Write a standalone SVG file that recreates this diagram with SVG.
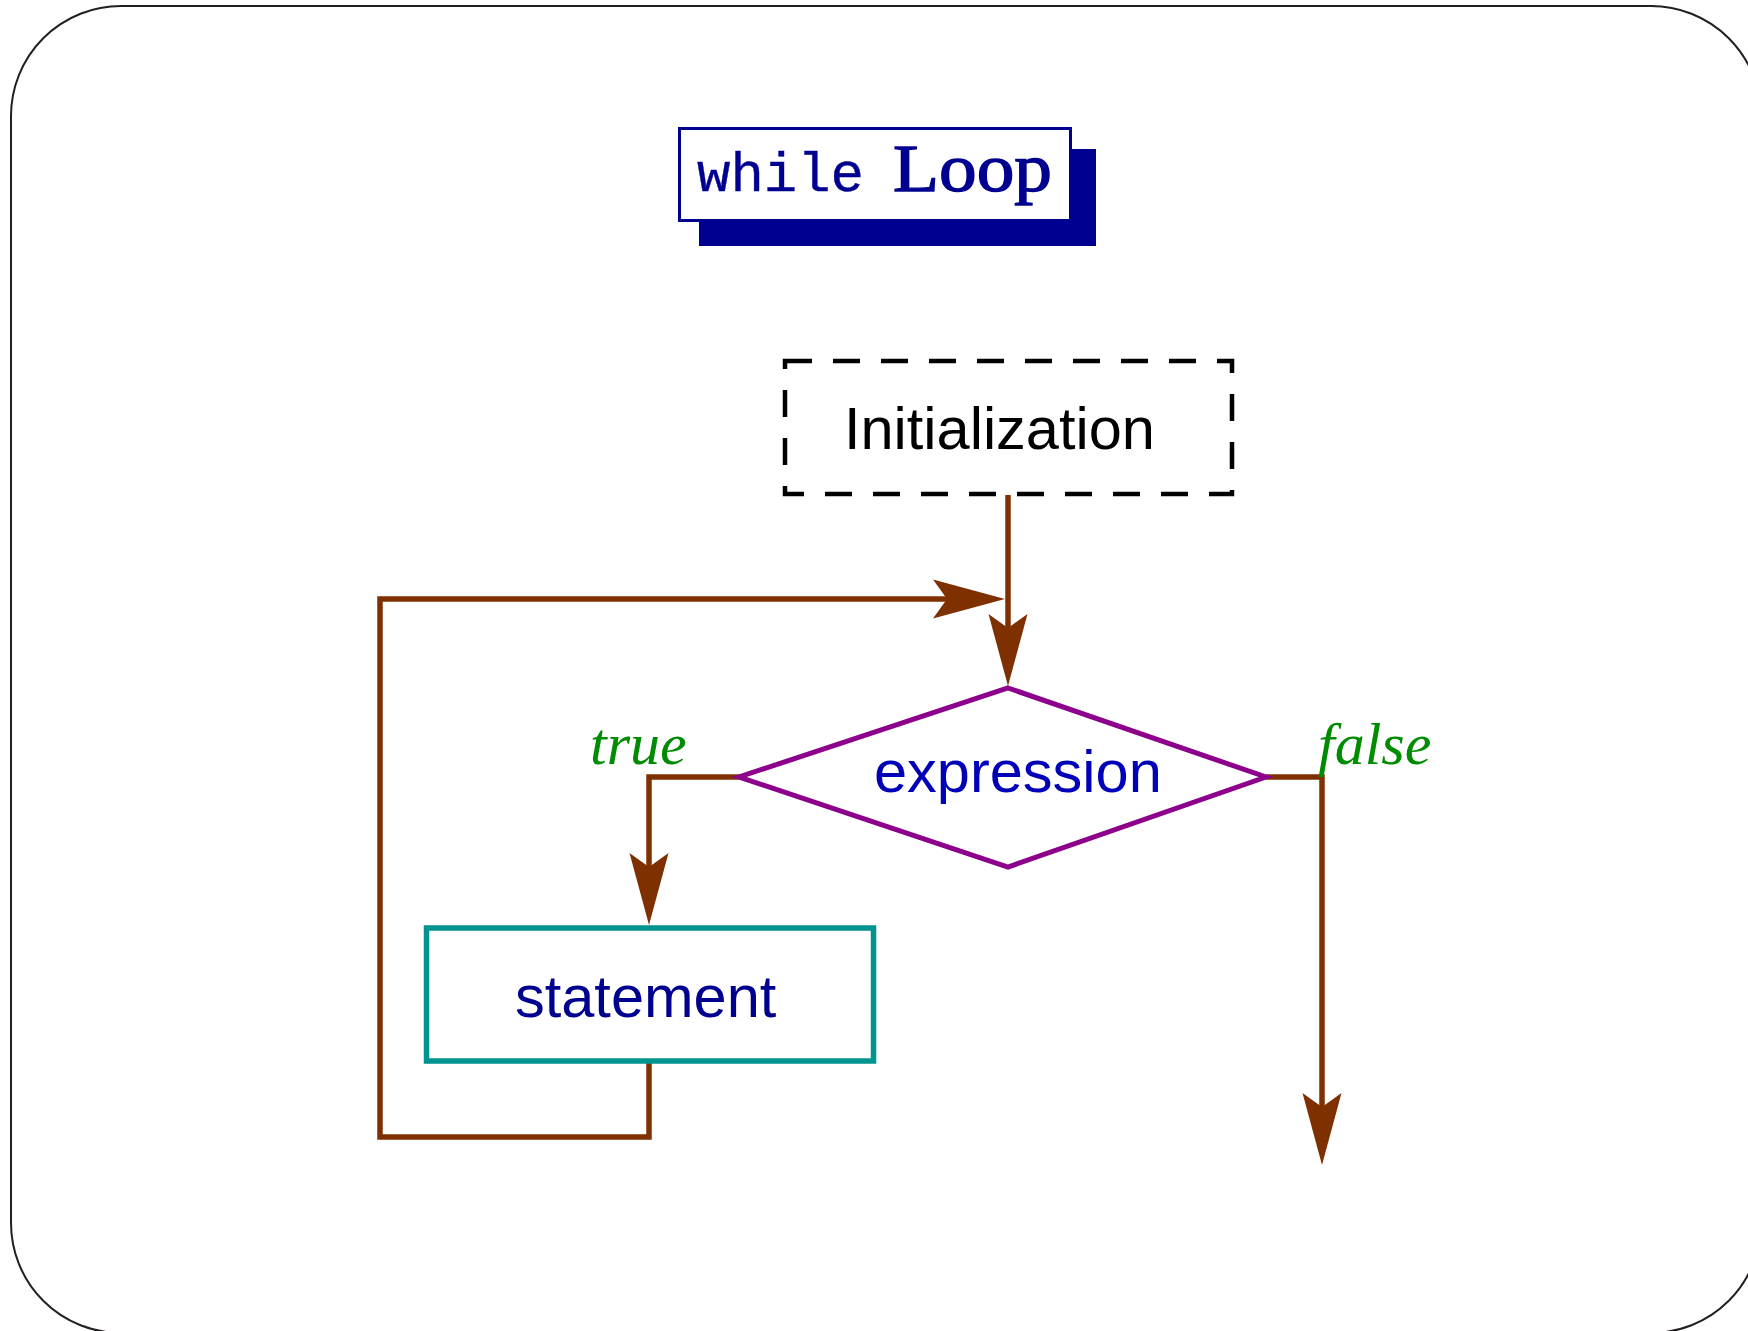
<svg xmlns="http://www.w3.org/2000/svg" width="1748" height="1331" viewBox="0 0 1748 1331">
<style>
.conn{fill:none;stroke:#7F3000;stroke-width:5.5;stroke-linejoin:miter;stroke-linecap:butt;marker-end:url(#ah)}
.lbl{font-family:"Liberation Serif",serif;font-style:italic;font-size:60px;fill:#008C00}
.sans{font-family:"Liberation Sans",Arial,sans-serif;font-size:59.5px}
</style>
<defs>
<marker id="ah" viewBox="-52 -20 72 40" refX="0" refY="0" markerWidth="72" markerHeight="40" markerUnits="userSpaceOnUse" orient="auto">
<path d="M20,0 L-52,-19.5 L-38,0 L-52,19.5 Z" fill="#7F3000"/>
</marker>
</defs>
<rect x="11" y="6" width="1750" height="1327" rx="110" ry="110" fill="#fff" stroke="#231F20" stroke-width="2"/>
<g id="title">
<rect x="699" y="149" width="397" height="97" fill="#000090"/>
<rect x="679.5" y="128.5" width="391" height="92" fill="#fff" stroke="#000090" stroke-width="3"/>
<text x="697" y="191" font-family="'Liberation Mono',monospace" font-size="56" fill="#000090" stroke="#000090" stroke-width="0.4" textLength="167" lengthAdjust="spacingAndGlyphs">while</text>
<text x="893" y="191" font-family="'Liberation Serif',serif" font-size="68" fill="#000090" stroke="#000090" stroke-width="1.4" textLength="159" lengthAdjust="spacingAndGlyphs">Loop</text>
</g>
<g id="connectors">
<path class="conn" d="M1008,495 V666"/>
<path class="conn" d="M649,1062 V1137 H380 V599 H985"/>
<path class="conn" d="M739,777 H649 V905"/>
<path class="conn" d="M1266,777 H1322 V1145"/>
</g>
<g id="init">
<rect x="785" y="361" width="447" height="133" fill="none" stroke="#000" stroke-width="4.5" stroke-dasharray="27 21"/>
<text class="sans" x="844" y="449" fill="#000">Initialization</text>
</g>
<g id="expression">
<polygon points="1008,688 1266,777 1008,867 739,777" fill="none" stroke="#8C008C" stroke-width="5"/>
<text class="sans" x="874" y="792" fill="#0000B8">expression</text>
</g>
<g id="statement">
<rect x="426.5" y="928" width="447" height="133" fill="none" stroke="#009490" stroke-width="5.5"/>
<text class="sans" x="515" y="1017" fill="#000090">statement</text>
</g>
<g id="labels">
<text class="lbl" x="590" y="764">true</text>
<text class="lbl" x="1318" y="764">false</text>
</g>
</svg>
